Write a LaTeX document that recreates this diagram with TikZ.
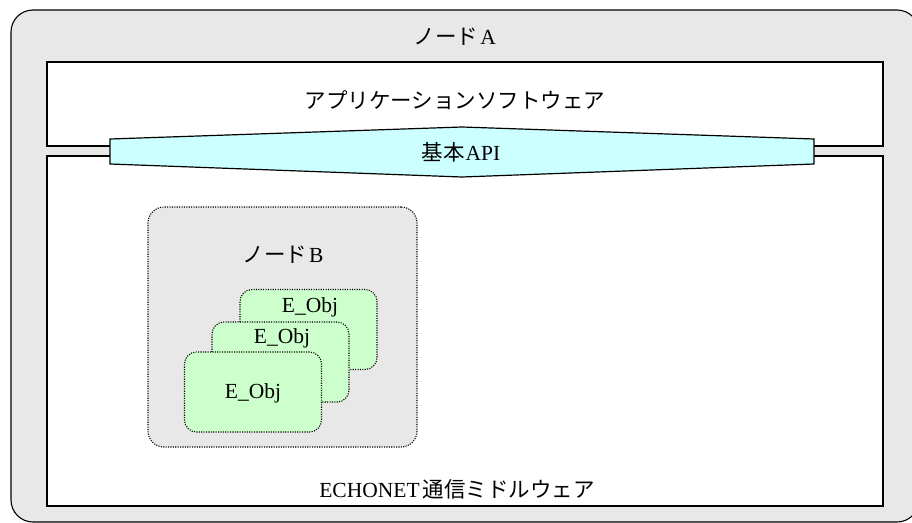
\documentclass[tikz,border=0pt]{standalone}
\usepackage{fontspec}
\setmainfont{Liberation Serif}
\newfontfamily\jpfont{Noto Sans CJK JP}
\definecolor{nodegray}{HTML}{E8E8E8}
\definecolor{apicyan}{HTML}{CCFFFF}
\definecolor{objgreen}{HTML}{CCFFCC}

\begin{document}
\begin{tikzpicture}[x=1pt,y=-1pt,
	layer/.style={draw,fill=white,line width=1.4pt,minimum width=836pt,inner sep=0pt},
	dotbox/.style={draw,line width=1.1pt,dash pattern=on 1.1pt off 1.3pt,inner sep=0pt},
	eobj/.style={dotbox,fill=objgreen,rounded corners=12pt,minimum width=137pt,minimum height=80pt},
	txt/.style={font=\fontsize{21.5}{25}\selectfont,inner sep=0pt}]
	\useasboundingbox (0,0) rectangle (912,522);
	% node A and its two layers
	\node[draw,fill=nodegray,line width=1.1pt,rounded corners=22pt,minimum width=908pt,minimum height=512pt,inner sep=0pt] (nodeA) at (465,266) {};
	\node[layer,minimum height=84pt] (app) at (465,104) {};
	\node[layer,minimum height=350pt] (mw) at (465,331) {};
	\draw[fill=apicyan,line width=1.2pt] (110,139) -- (462,127) -- (814,139) -- (814,164) -- (462,177) -- (110,164) -- cycle;
	% node B with its objects
	\node[dotbox,fill=nodegray,rounded corners=16pt,minimum width=269pt,minimum height=240pt] (nodeB) at (282.5,327) {};
	\node[eobj] (obj3) at (308.5,329.5) {};
	\node[eobj] (obj2) at (280.5,362) {};
	\node[eobj] (obj1) at (253,392) {};
	% texts
	\node[txt] (labA) at (455,37) {{\jpfont ノード}\hspace{2pt}A};
	\node[txt] (labApp) at (455,100) {\jpfont アプリケーションソフトウェア};
	\node[txt] (labApi) at (461,152) {{\jpfont 基本}\hspace{1pt}API};
	\node[txt] (labB) at (283,255) {{\jpfont ノード}\hspace{2pt}B};
	\node[txt] (labObj3) at (310,307) {E\_Obj};
	\node[txt] (labObj2) at (282,338) {E\_Obj};
	\node[txt] (labObj1) at (253,393) {E\_Obj};
	\node[txt] (labMw) at (457,489) {ECHONET\hspace{3pt}{\jpfont 通信ミドルウェア}};
\end{tikzpicture}
\end{document}
